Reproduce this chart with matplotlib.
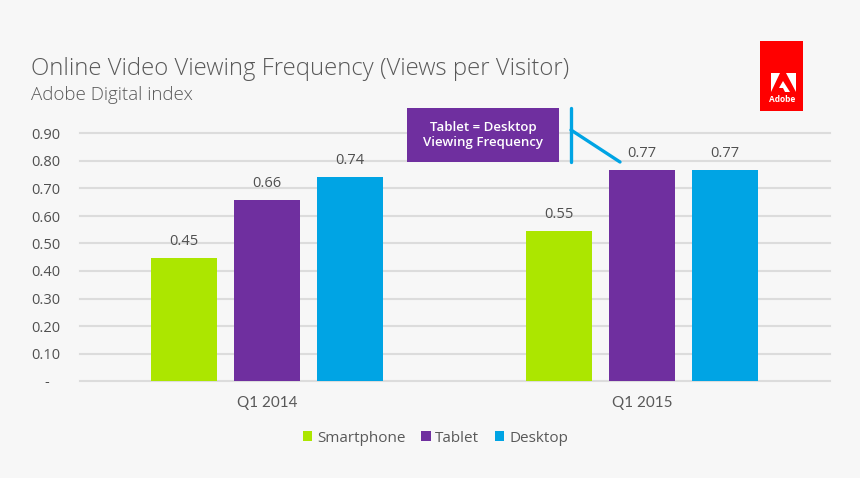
import matplotlib
matplotlib.use('Agg')
from matplotlib import pyplot as plt
from matplotlib.patches import Polygon, Rectangle
from matplotlib.lines import Line2D

W, H = 860, 478

quarters = ['Q1 2014', 'Q1 2015']
smartphone = [0.447, 0.547]
tablet = [0.657, 0.768]
desktop = [0.742, 0.766]
y_ticks = [0, 0.1, 0.2, 0.3, 0.4, 0.5, 0.6, 0.7, 0.8, 0.9]
y_tick_labels = ['-   ', '0.10', '0.20', '0.30', '0.40', '0.50', '0.60', '0.70', '0.80', '0.90']
series_names = ['Smartphone', 'Tablet', 'Desktop']
series_colors = ['#ace600', '#6f2f9f', '#00a4e4']

BG = '#f7f7f7'
TEXT = '#595959'
GRID = '#dcdcdc'

plt.rcParams['font.family'] = ['Open Sans', 'DejaVu Sans']

fig = plt.figure(figsize=(W / 100, H / 100), dpi=100, facecolor=BG)
ax = fig.add_axes([80 / W, (H - 381) / H, 750 / W, 247.5 / H], facecolor=BG)

bar_w = 0.175
step = 0.2215
all_series = [smartphone, tablet, desktop]
for i, (name, vals, col) in enumerate(zip(series_names, all_series, series_colors)):
    xs = [q + (i - 1) * step - 0.001 for q in range(len(quarters))]
    bars = ax.bar(xs, vals, bar_w, color=col, label=name, zorder=3)
    for b, v in zip(bars, vals):
        ax.annotate(f'{v:.2f}', (b.get_x() + b.get_width() / 2, v), xytext=(0, 6.5),
                    textcoords='offset points', ha='center', va='bottom',
                    fontsize=10.5, color='#505050')

ax.set_xlim(-0.5, 1.5)
ax.set_ylim(0, 0.9)
ax.set_xticks(range(len(quarters)))
ax.set_xticklabels(quarters, fontsize=11, color=TEXT, family=['Lato', 'DejaVu Sans'])
ax.set_yticks(y_ticks)
ax.set_yticklabels(y_tick_labels, fontsize=10.5, color='#505050')
ax.tick_params(axis='x', length=0, pad=11)
ax.tick_params(axis='y', length=0, pad=14)
ax.grid(axis='y', color=GRID, lw=1.5, zorder=0)
ax.set_axisbelow(True)
for side in ['top', 'right', 'left', 'bottom']:
    ax.spines[side].set_visible(False)
for line in ax.get_ygridlines():
    line.set_clip_on(False)

fig.legend(loc='center', bbox_to_anchor=(435.5 / W, 1 - 438 / H), ncol=3, frameon=False,
           fontsize=11, labelcolor=TEXT, handlelength=0.6, handleheight=0.6,
           handletextpad=0.3, columnspacing=1.05)

fig.text(31 / W, 1 - 69 / H, 'Online Video Viewing Frequency (Views per Visitor)',
         fontsize=17.2, color=TEXT, va='center', ha='left', fontweight='light')
fig.text(31 / W, 1 - 95 / H, 'Adobe Digital index',
         fontsize=13.5, color=TEXT, va='center', ha='left', fontweight='light')


def px_poly(points, color):
    fig.add_artist(Polygon([(x / W, 1 - y / H) for x, y in points], closed=True,
                           transform=fig.transFigure, facecolor=color, edgecolor='none'))


def px_line(x0, y0, x1, y1):
    fig.add_artist(Line2D([x0 / W, x1 / W], [1 - y0 / H, 1 - y1 / H], transform=fig.transFigure,
                          color='#00a4e4', lw=2.4, solid_capstyle='round', zorder=5))


# callout
fig.add_artist(Rectangle((407 / W, 1 - 162 / H), 152 / W, 54 / H, transform=fig.transFigure,
                         facecolor='#6f2f9f', edgecolor='none', zorder=4))
fig.text(483 / W, 1 - 135 / H, 'Tablet = Desktop\nViewing Frequency', color='white', fontsize=9.5,
         fontweight='semibold', ha='center', va='center', linespacing=1.25, zorder=6)
px_line(571, 108, 571, 162)
px_line(571, 130, 620, 162)

# adobe logo
px_poly([(760, 41), (803, 41), (803, 111), (760, 111)], '#ff0000')
px_poly([(771, 73), (780, 73), (771, 92)], 'white')
px_poly([(786, 73), (796, 73), (796, 92)], 'white')
px_poly([(783, 81), (790, 92), (785, 92), (783, 88), (779, 88)], 'white')
fig.text(782 / W, 1 - 100 / H, 'Adobe', color='white', fontsize=6, fontweight='bold',
         ha='center', va='center')

fig.savefig('out.png', dpi=100, facecolor=BG)
